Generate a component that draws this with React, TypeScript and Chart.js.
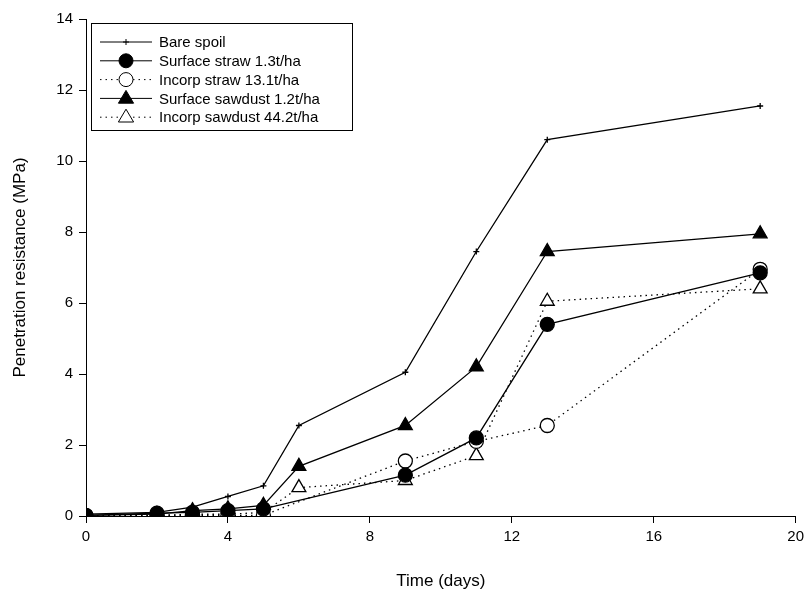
import React, { useEffect, useRef } from "react";
import { Chart, registerables } from "chart.js";

Chart.register(...registerables);

const days = [0, 2, 3, 4, 5, 6, 9, 11, 13, 19];
const bareSpoil = [0.05, 0.1, 0.25, 0.55, 0.85, 2.55, 4.05, 7.45, 10.6, 11.55];
const surfaceStrawDays = [0, 2, 3, 4, 5, 9, 11, 13, 19];
const surfaceStraw = [0.02, 0.08, 0.1, 0.15, 0.2, 1.15, 2.2, 5.4, 6.85];
const incorpStrawDays = [0, 2, 3, 4, 5, 9, 11, 13, 19];
const incorpStraw = [0, 0.02, 0.02, 0.02, 0.02, 1.55, 2.1, 2.55, 6.95];
const surfaceSawdust = [0.02, 0.05, 0.15, 0.2, 0.3, 1.4, 2.55, 4.2, 7.45, 7.95];
const incorpSawdust = [0, 0.02, 0.05, 0.05, 0.1, 0.8, 1.0, 1.7, 6.05, 6.4];

const pts = (xs: number[], ys: number[]) => xs.map((x, i) => ({ x, y: ys[i] }));

const FONT = "'Liberation Sans', Arial, sans-serif";

const legendBox = {
  id: "legendBox",
  afterDraw(chart: any) {
    const ctx = chart.ctx;
    ctx.save();
    ctx.strokeStyle = "#000";
    ctx.lineWidth = 1;
    ctx.strokeRect(91.5, 23.5, 261, 107);
    ctx.font = `15px ${FONT}`;
    ctx.textBaseline = "middle";
    ctx.fillStyle = "#000";
    chart.data.datasets.forEach((ds: any, i: number) => {
      const y = 42 + i * 18.8;
      ctx.beginPath();
      ctx.setLineDash(ds.borderDash || []);
      ctx.moveTo(100, y);
      ctx.lineTo(152, y);
      ctx.stroke();
      ctx.setLineDash([]);
      const cx = 126;
      const r = ds.pointRadius;
      ctx.fillStyle = ds.pointBackgroundColor;
      ctx.beginPath();
      if (ds.pointStyle === "circle") {
        ctx.arc(cx, y, r, 0, Math.PI * 2);
        ctx.fill();
        ctx.stroke();
      } else if (ds.pointStyle === "triangle") {
        ctx.moveTo(cx, y - r);
        ctx.lineTo(cx + r * 0.95, y + r * 0.6);
        ctx.lineTo(cx - r * 0.95, y + r * 0.6);
        ctx.closePath();
        ctx.fill();
        ctx.stroke();
      } else {
        ctx.moveTo(cx - r, y);
        ctx.lineTo(cx + r, y);
        ctx.moveTo(cx, y - r);
        ctx.lineTo(cx, y + r);
        ctx.stroke();
      }
      ctx.fillStyle = "#000";
      ctx.fillText(ds.label, 159, y + 1);
    });
    ctx.restore();
  },
};

export default function App() {
  const ref = useRef<HTMLCanvasElement>(null);

  useEffect(() => {
    const solid = { borderColor: "#000", borderWidth: 1.3, pointBorderColor: "#000", showLine: true, tension: 0 };
    const dotted = { ...solid, borderDash: [1.5, 4] };
    const grid = { drawOnChartArea: false, drawTicks: true, tickLength: 7, tickColor: "#000", color: "#000" };
    const chart = new Chart(ref.current!, {
      type: "scatter",
      data: {
        datasets: [
          { ...solid, label: "Bare spoil", data: pts(days, bareSpoil), pointStyle: "cross", pointRadius: 3, pointBackgroundColor: "#000" },
          { ...solid, label: "Surface straw 1.3t/ha", data: pts(surfaceStrawDays, surfaceStraw), pointStyle: "circle", pointRadius: 7, pointBackgroundColor: "#000" },
          { ...dotted, label: "Incorp straw 13.1t/ha", data: pts(incorpStrawDays, incorpStraw), pointStyle: "circle", pointRadius: 7, pointBackgroundColor: "#fff" },
          { ...solid, label: "Surface sawdust 1.2t/ha", data: pts(days, surfaceSawdust), pointStyle: "triangle", pointRadius: 8, pointBackgroundColor: "#000" },
          { ...dotted, label: "Incorp sawdust 44.2t/ha", data: pts(days, incorpSawdust), pointStyle: "triangle", pointRadius: 8, pointBackgroundColor: "#fff" },
        ] as any,
      },
      options: {
        animation: false,
        responsive: false,
        layout: { padding: { top: 19, right: 12, left: 6 } },
        plugins: { legend: { display: false }, tooltip: { enabled: false } },
        scales: {
          x: {
            type: "linear", min: 0, max: 20,
            ticks: { stepSize: 4, color: "#000", padding: 5, font: { family: FONT, size: 15 } },
            grid: grid as any,
            border: { color: "#000" },
            title: { display: true, text: "Time (days)", color: "#000", padding: { top: 18 }, font: { family: FONT, size: 17 } },
            afterFit: (s: any) => { s.height = 80; },
          },
          y: {
            min: 0, max: 14,
            ticks: { stepSize: 2, color: "#000", padding: 6, font: { family: FONT, size: 15 } },
            grid: grid as any,
            border: { color: "#000" },
            title: { display: true, text: "Penetration resistance (MPa)", color: "#000", font: { family: FONT, size: 17 } },
            afterFit: (s: any) => { s.width = 80; },
          },
        },
      },
      plugins: [legendBox],
    });
    return () => chart.destroy();
  }, []);

  return (
    <div style={{ position: "fixed", left: 0, top: 0, background: "#fff" }}>
      <canvas ref={ref} width={809} height={596} />
    </div>
  );
}
